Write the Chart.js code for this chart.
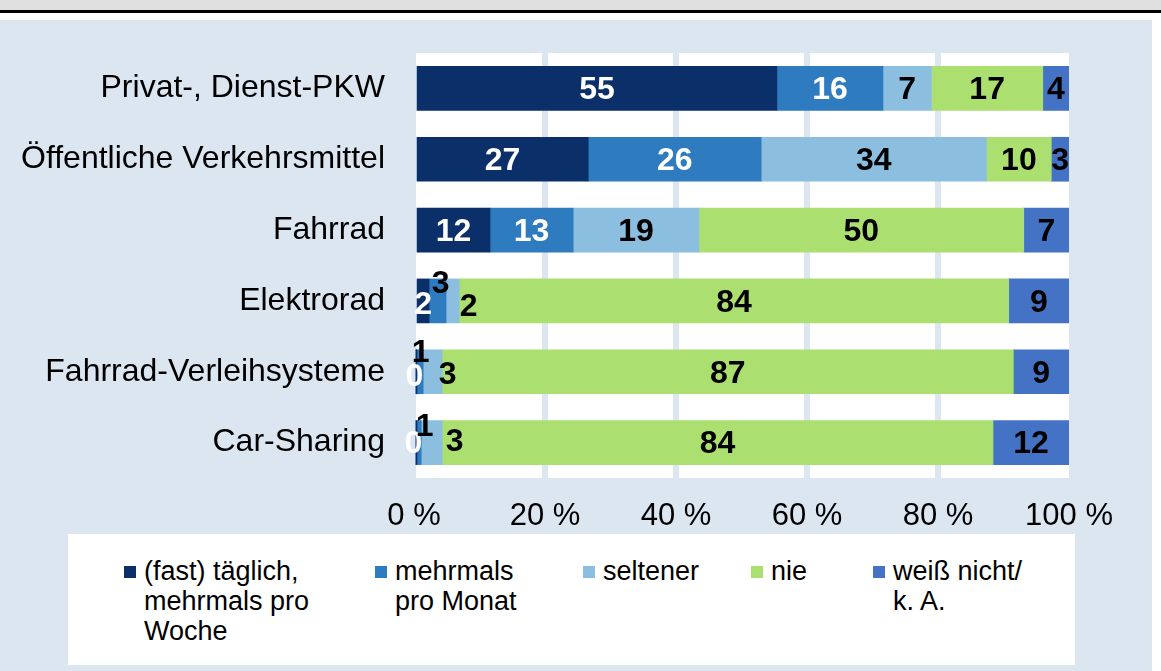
<!DOCTYPE html>
<html>
<head>
<meta charset="utf-8">
<script src="https://cdn.jsdelivr.net/npm/chart.js@4"></script>
<style>
  body { margin: 0; width: 1161px; height: 671px; background: #fff; position: relative; overflow: hidden; font-family: "Liberation Sans", Arial, sans-serif; }
  #topbar { position: absolute; left: 0; top: 0; width: 1161px; height: 10px; background: #e0e0e0; }
  #rule { position: absolute; left: 0; top: 10px; width: 1161px; height: 3px; background: #000; }
  #panel { position: absolute; left: 0; top: 20px; width: 1152px; height: 651px; background: #dce6f0; }
  #wrap { position: absolute; left: 0; top: 20px; width: 1152px; height: 510px; }
  #legend { position: absolute; left: 68px; top: 534px; width: 1007px; height: 131px; background: #fff; }
  .item { position: absolute; top: 0; }
  .box { position: absolute; top: 32px; width: 12px; height: 12px; }
  .txt { position: absolute; top: 22px; font-size: 27px; line-height: 30px; color: #000; white-space: nowrap; }
</style>
</head>
<body>
<div id="topbar"></div>
<div id="rule"></div>
<div id="panel"></div>
<div id="wrap"><canvas id="bChart"></canvas></div>
<div id="legend"></div>
<script>
const categories = [
  'Privat-, Dienst-PKW',
  'Öffentliche Verkehrsmittel',
  'Fahrrad',
  'Elektrorad',
  'Fahrrad-Verleihsysteme',
  'Car-Sharing',
];
const seriesNames = [
  ['(fast) täglich,', 'mehrmals pro', 'Woche'],
  ['mehrmals', 'pro Monat'],
  ['seltener'],
  ['nie'],
  ['weiß nicht/', 'k. A.'],
];
const daily   = [55.4, 26.6, 11.6, 2.3, 0.3, 0.3];
const monthly = [16.2, 26.4, 12.7, 2.6, 1.1, 0.8];
const rarely  = [7.4, 34.4, 19.2, 2.0, 2.9, 3.2];
const never   = [17.0, 9.9, 49.6, 83.9, 87.2, 84.1];
const unknown = [4.0, 2.7, 6.9, 9.2, 8.5, 11.6];
const tickValues = [0, 20, 40, 60, 80, 100];

const colors = ['#0b2f68', '#2e7bbf', '#8bbedf', '#abe071', '#4472c4'];
const labelColors = ['#fff', '#fff', '#000', '#000', '#000'];
// hand-moved labels on the thin segments, key dataset-category -> [dx, dy]
const labelShift = {
  '0-3': [0, 2], '1-3': [3, -19], '2-3': [16, 4],
  '0-4': [-2, 3], '1-4': [1, -21], '2-4': [15, 1],
  '0-5': [-3, 0], '1-5': [6, -17], '2-5': [23, -2],
};

const plotBg = {
  id: 'plotBg',
  beforeDraw(chart) {
    const a = chart.chartArea;
    const ctx = chart.ctx;
    ctx.save();
    ctx.fillStyle = '#fff';
    ctx.fillRect(a.left + 2, a.top, a.right - a.left - 2, a.bottom - a.top);
    ctx.restore();
  }
};

const barLabels = {
  id: 'barLabels',
  afterDatasetsDraw(chart) {
    const ctx = chart.ctx;
    ctx.save();
    ctx.font = 'bold 32px "Liberation Sans", Arial, sans-serif';
    ctx.textAlign = 'center';
    ctx.textBaseline = 'middle';
    chart.data.datasets.forEach((ds, i) => {
      chart.getDatasetMeta(i).data.forEach((bar, j) => {
        const s = labelShift[i + '-' + j];
        const x = (bar.x + bar.base) / 2 + (s ? s[0] : 0);
        // labels pushed off the mid-blue sliver sit on white, so black
        ctx.fillStyle = (s && i === 1) ? '#000' : labelColors[i];
        ctx.fillText(Math.round(ds.data[j]), x, bar.y + 2 + (s ? s[1] : 0));
      });
    });
    ctx.restore();
  }
};

const series = [daily, monthly, rarely, never, unknown];
const data = {
  labels: categories,
  datasets: series.map((vals, i) => ({
    label: seriesNames[i].join(' '),
    data: vals,
    backgroundColor: colors[i],
    barThickness: 44,
  }))
};

const config = {
  type: 'bar',
  data: data,
  options: {
    indexAxis: 'y',
    responsive: true,
    maintainAspectRatio: false,
    animation: false,
    layout: { padding: { top: 33, right: 83, left: 0, bottom: 0 } },
    plugins: { legend: { display: false }, tooltip: { enabled: false } },
    scales: {
      x: {
        stacked: true,
        min: 0,
        max: 100,
        afterBuildTicks: (scale) => { scale.ticks = tickValues.map(v => ({ value: v })); },
        afterFit: (scale) => { scale.height = 52; },
        border: { display: false },
        grid: {
          drawTicks: false,
          lineWidth: 6,
          color: (c) => (c.tick && (c.tick.value === 0 || c.tick.value === 100)) ? 'rgba(0,0,0,0)' : '#dce6f0',
        },
        ticks: {
          padding: 20,
          color: '#000',
          font: { size: 31, family: '"Liberation Sans", Arial, sans-serif' },
          callback: (v) => v + ' %',
        }
      },
      y: {
        stacked: true,
        afterFit: (scale) => {
          scale.width = 414;
          scale.paddingTop = 0;
          scale.paddingBottom = 0;
        },
        border: { display: false },
        grid: { display: false },
        ticks: {
          padding: 21,
          color: '#000',
          font: { size: 32, family: '"Liberation Sans", Arial, sans-serif' },
        }
      }
    }
  },
  plugins: [plotBg, barLabels]
};

const myChart = new Chart(document.getElementById('bChart'), config);

// legend with wrapped labels, as in the original
const legendX = [56, 307, 515, 683, 805];
const legend = document.getElementById('legend');
seriesNames.forEach((lines, i) => {
  const item = document.createElement('div');
  item.className = 'item';
  item.style.left = legendX[i] + 'px';
  const box = document.createElement('div');
  box.className = 'box';
  box.style.left = '0px';
  box.style.background = colors[i];
  const txt = document.createElement('div');
  txt.className = 'txt';
  txt.style.left = '20px';
  txt.innerHTML = lines.join('<br>');
  item.appendChild(box);
  item.appendChild(txt);
  legend.appendChild(item);
});
</script>
</body>
</html>
